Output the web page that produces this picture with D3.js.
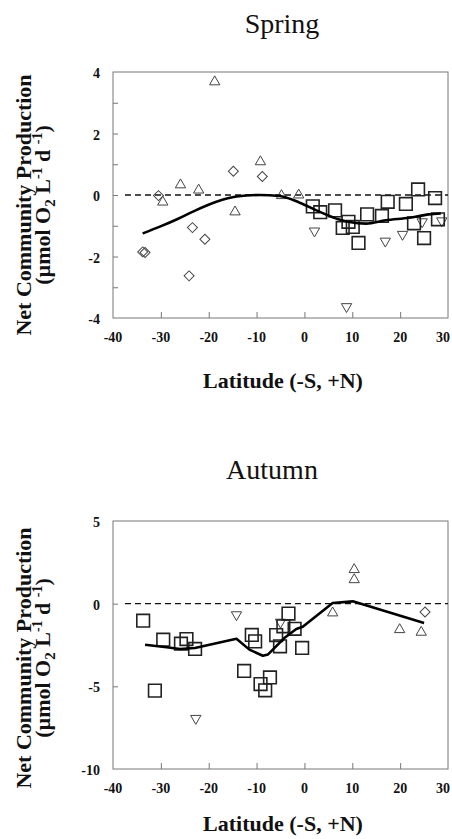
<!DOCTYPE html>
<html>
<head>
<meta charset="utf-8">
<script src="https://cdn.jsdelivr.net/npm/d3@7"></script>
<style>
  body { margin: 0; background: #fff; }
  svg { display: block; }
  text { font-family: "Liberation Serif", "Times New Roman", serif; fill: #111; }
</style>
</head>
<body>
<div id="chart"></div>
<script>
// data: [latitude, NCP]
var latTicks = [-40, -30, -20, -10, 0, 10, 20, 30];

var springUp = [[-18.75, 3.68], [-25.9, 0.33], [-22.1, 0.16], [-29.6, -0.23], [-14.5, -0.55],
    [-9.2, 1.08], [-4.8, -0.02], [-1.2, 0.0]];
var springDiamond = [[-30.5, -0.02], [-33.8, -1.85], [-33.3, -1.87], [-23.4, -1.06], [-20.8, -1.44],
    [-24.1, -2.63], [-14.85, 0.77], [-8.8, 0.6]];
var springDown = [[2.1, -1.17], [8.8, -3.63], [16.9, -1.5], [20.5, -1.28], [24.6, -0.87], [28.7, -0.84]];
var springSquare = [[1.75, -0.37], [3.3, -0.56], [6.4, -0.5], [9.2, -0.87], [8.0, -1.07], [10.1, -1.04],
    [11.3, -1.56], [13.1, -0.63], [16.2, -0.68], [17.4, -0.22], [21.2, -0.29], [23.75, 0.18],
    [22.9, -0.92], [25.0, -1.4], [27.3, -0.1], [27.9, -0.79]];
var springLine = [[-33.8, -1.25], [-30.2, -1.03], [-26.5, -0.78], [-23.3, -0.54], [-18.4, -0.22],
    [-14.2, -0.05], [-9.4, 0.0], [-5.2, -0.03], [-1.0, -0.25], [3.1, -0.54], [7.3, -0.8],
    [9.4, -0.88], [12.9, -0.93], [17.0, -0.82], [21.9, -0.74], [26.0, -0.63], [28.5, -0.6]];

var autumnUp = [[10.4, 2.06], [10.4, 1.45], [5.9, -0.56], [19.9, -1.57], [24.4, -1.73]];
var autumnDiamond = [[25.2, -0.5]];
var autumnDown = [[-14.2, -0.67], [-22.7, -6.94], [-5.0, -1.12]];
var autumnSquare = [[-33.7, -1.03], [-31.25, -5.26], [-29.5, -2.18], [-25.8, -2.42], [-24.65, -2.14],
    [-22.85, -2.74], [-12.6, -4.07], [-11.0, -1.89], [-10.3, -2.28], [-9.17, -4.86], [-8.2, -5.24],
    [-7.2, -4.46], [-5.9, -1.9], [-5.1, -2.58], [-4.4, -1.37], [-3.33, -0.6], [-2.05, -1.52], [-0.48, -2.68]];
var autumnLine = [[-33.3, -2.48], [-28.8, -2.64], [-26.0, -2.74], [-22.9, -2.68], [-14.2, -2.12],
    [-11.5, -2.78], [-8.7, -3.15], [-7.6, -3.07], [-4.2, -2.08], [-1.7, -1.53], [-0.35, -1.4],
    [5.9, 0.04], [10.1, 0.14], [25.0, -1.17]];

var zeroLine = [-37.5, 30];

var W = 452, H = 839;
var svg = d3.select("#chart").append("svg").attr("width", W).attr("height", H);

var x = d3.scaleLinear().domain([-40, 30]).range([113, 448]);

function panel(o) {
    var y = d3.scaleLinear().domain(o.yDomain).range([o.bottom, o.top]);
    var g = svg.append("g");

    // frame
    g.append("rect")
        .attr("x", x.range()[0]).attr("y", o.top)
        .attr("width", x.range()[1] - x.range()[0]).attr("height", o.bottom - o.top)
        .attr("fill", "none").attr("stroke", "#777").attr("stroke-width", 1);

    // inward ticks
    var xa = g.append("g").attr("transform", "translate(0," + o.bottom + ")")
        .call(d3.axisTop(x).tickValues(latTicks.slice(1, -1)).tickSize(6).tickFormat(""));
    xa.select(".domain").remove();
    xa.selectAll("line").attr("stroke", "#777");

    var ya = g.append("g").attr("transform", "translate(" + x.range()[0] + ",0)")
        .call(d3.axisRight(y).tickValues(o.yTicks).tickSize(5).tickFormat(""));
    ya.select(".domain").remove();
    ya.selectAll("line").attr("stroke", "#777");

    // tick labels
    g.selectAll(".xl").data(latTicks).enter().append("text")
        .attr("x", function(d) { return Math.min(x(d), W - 9); })
        .attr("y", o.bottom + 24)
        .attr("text-anchor", "middle")
        .style("font-size", "14px").style("font-weight", "bold")
        .text(function(d) { return d; });

    g.selectAll(".yl").data(o.yLabels).enter().append("text")
        .attr("x", 100)
        .attr("y", function(d) { return y(d) + 6; })
        .attr("text-anchor", "end")
        .style("font-size", "14px").style("font-weight", "bold")
        .text(function(d) { return d; });

    // zero line
    g.append("line")
        .attr("x1", x(zeroLine[0])).attr("x2", x(zeroLine[1]))
        .attr("y1", y(0)).attr("y2", y(0))
        .attr("stroke", "#111").attr("stroke-width", 1.4).attr("stroke-dasharray", "6,4");

    // markers
    function marks(data, type, size, rot, stroke, sw) {
        g.selectAll(null).data(data).enter().append("path")
            .attr("d", d3.symbol().type(type).size(size))
            .attr("transform", function(d) {
                return "translate(" + x(d[0]) + "," + y(d[1]) + ") rotate(" + rot + ")";
            })
            .attr("fill", "none").attr("stroke", stroke).attr("stroke-width", sw);
    }
    marks(o.up, d3.symbolTriangle, 46, 0, "#444", 1);
    marks(o.down, d3.symbolTriangle, 46, 180, "#444", 1);
    marks(o.diamond, d3.symbolSquare, 50, 45, "#444", 1);
    marks(o.square, d3.symbolSquare, 160, 0, "#222", 1.6);

    // fitted line
    g.append("path")
        .datum(o.line)
        .attr("d", d3.line().x(function(d) { return x(d[0]); }).y(function(d) { return y(d[1]); })
            .curve(o.curve))
        .attr("fill", "none").attr("stroke", "#000").attr("stroke-width", 2.6)
        .attr("stroke-linejoin", "round");

    // titles
    svg.append("text").attr("x", o.titleX).attr("y", o.titleY)
        .attr("text-anchor", "middle").style("font-size", "28px")
        .text(o.title);

    svg.append("text").attr("x", 283).attr("y", o.xTitleY)
        .attr("text-anchor", "middle").style("font-size", "22px").style("font-weight", "bold")
        .text("Latitude (-S, +N)");

    var cy = o.yTitleC;
    svg.append("text")
        .attr("transform", "translate(31," + cy + ") rotate(-90)")
        .attr("text-anchor", "middle").style("font-size", "22px").style("font-weight", "bold")
        .text("Net Community Production");

    var t2 = svg.append("text")
        .attr("transform", "translate(50," + cy + ") rotate(-90)")
        .attr("text-anchor", "middle").style("font-size", "22px").style("font-weight", "bold");
    t2.append("tspan").text("(\u00b5mol O");
    t2.append("tspan").attr("dy", 5).style("font-size", "15px").text("2");
    t2.append("tspan").attr("dy", -5).text(" L");
    t2.append("tspan").attr("dy", -8).style("font-size", "14px").text("-1");
    t2.append("tspan").attr("dy", 8).text(" d ");
    t2.append("tspan").attr("dy", -8).style("font-size", "14px").text("-1");
    t2.append("tspan").attr("dy", 8).text(")");
}

panel({
    title: "Spring", titleX: 282, titleY: 33,
    top: 72, bottom: 318, yDomain: [-4, 4],
    yTicks: [-3, -2, -1, 0, 1, 2, 3], yLabels: [4, 2, 0, -2, -4],
    yTitleC: 205, xTitleY: 388,
    up: springUp, down: springDown, diamond: springDiamond, square: springSquare,
    line: springLine, curve: d3.curveMonotoneX
});

panel({
    title: "Autumn", titleX: 272, titleY: 479,
    top: 521, bottom: 769, yDomain: [-10, 5],
    yTicks: [-5, 0], yLabels: [5, 0, -5, -10],
    yTitleC: 658, xTitleY: 831,
    up: autumnUp, down: autumnDown, diamond: autumnDiamond, square: autumnSquare,
    line: autumnLine, curve: d3.curveLinear
});
</script>
</body>
</html>
